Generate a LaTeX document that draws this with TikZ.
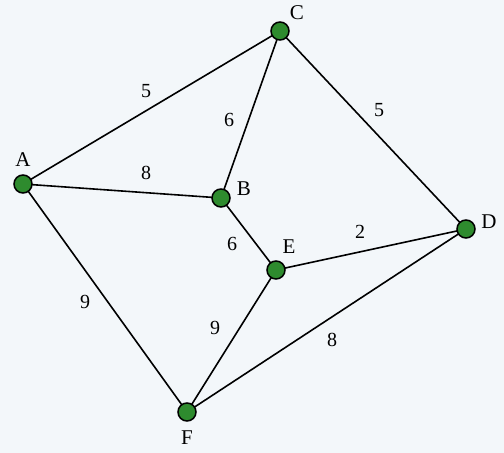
\documentclass[tikz,border=0pt]{standalone}
\usepackage{fontspec}
\setmainfont{Liberation Serif}
\definecolor{bgc}{HTML}{F3F7FA}
\definecolor{nodegreen}{HTML}{2E8B2E}
\begin{document}
\begin{tikzpicture}[x=1pt,y=-1pt,
  vtx/.style={circle,draw=black,fill=nodegreen,line width=1.5pt,minimum size=18pt,inner sep=0pt},
  lbl/.style={font=\fontsize{21}{21}\selectfont,inner sep=0pt},
  edge/.style={draw=black,line width=1.6pt},
  wt/.style={font=\fontsize{20}{20}\selectfont,inner sep=0pt}]
\fill[bgc] (0,0) rectangle (504,453);
\useasboundingbox (0,0) rectangle (504,453);
\coordinate (pA) at (23,184);
\coordinate (pC) at (280,31);
\coordinate (pB) at (221,198);
\coordinate (pE) at (276,270);
\coordinate (pD) at (466,229);
\coordinate (pF) at (187,412);
\draw[edge] (pA) -- (pC);
\draw[edge] (pA) -- (pB);
\draw[edge] (pA) -- (pF);
\draw[edge] (pC) -- (pB);
\draw[edge] (pC) -- (pD);
\draw[edge] (pB) -- (pE);
\draw[edge] (pE) -- (pD);
\draw[edge] (pE) -- (pF);
\draw[edge] (pF) -- (pD);
\node[vtx] (A) at (pA) {};
\node[vtx] (C) at (pC) {};
\node[vtx] (B) at (pB) {};
\node[vtx] (E) at (pE) {};
\node[vtx] (D) at (pD) {};
\node[vtx] (F) at (pF) {};
\node[lbl] (lA) at (23,160) {A};
\node[lbl] (lC) at (297,13) {C};
\node[lbl] (lB) at (244,189) {B};
\node[lbl] (lE) at (289,247) {E};
\node[lbl] (lD) at (489,222) {D};
\node[lbl] (lF) at (187,438) {F};
\node[wt] (wAC) at (146,91) {5};
\node[wt] (wAB) at (146,173) {8};
\node[wt] (wCD) at (379,110) {5};
\node[wt] (wCB) at (229,120) {6};
\node[wt] (wBE) at (232,244) {6};
\node[wt] (wED) at (360,232) {2};
\node[wt] (wAF) at (85,302) {9};
\node[wt] (wEF) at (215,328) {9};
\node[wt] (wFD) at (332,340) {8};
\end{tikzpicture}
\end{document}
